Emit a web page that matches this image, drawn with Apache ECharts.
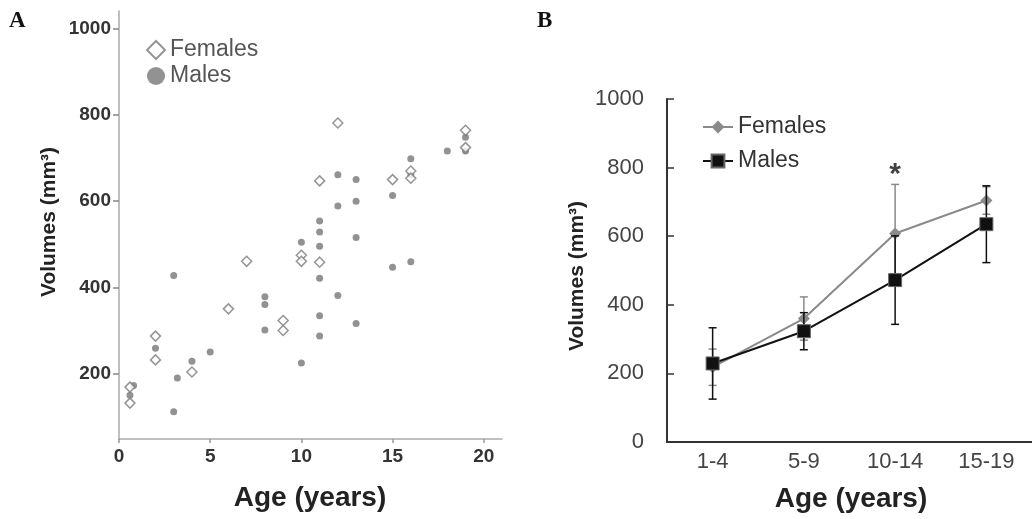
<!DOCTYPE html>
<html>
<head>
<meta charset="utf-8">
<script src="https://cdn.jsdelivr.net/npm/echarts@6/dist/echarts.min.js"></script>
<style>
  html, body { margin: 0; padding: 0; background: #fff; }
  #chart { width: 1032px; height: 519px; }
</style>
</head>
<body>
<div id="chart"></div>
<script>
// panel A: individual volumes [age, volume]
const femalesA = [
  [0.6, 170], [0.6, 133], [2, 288], [2, 233], [4, 205], [6, 351], [7, 461],
  [9, 324], [9, 301], [10, 475], [10, 461], [11, 647], [11, 459], [12, 781],
  [15, 650], [16, 670], [16, 653], [19, 764], [19, 724]
];
const malesA = [
  [0.6, 151], [0.8, 174], [2, 260], [3, 428], [3.2, 191], [3, 113], [4, 230],
  [5, 251], [8, 379], [8, 361], [8, 302], [10, 505], [10, 226], [11, 554],
  [11, 529], [11, 496], [11, 422], [11, 335], [11, 288], [12, 661], [12, 589],
  [12, 382], [13, 650], [13, 600], [13, 516], [13, 317], [15, 613], [15, 447],
  [16, 698], [16, 661], [16, 460], [18, 716], [19, 748], [19, 716]
];
const xTicksA = [0, 5, 10, 15, 20];
const yTicksA = [200, 400, 600, 800, 1000];

// panel B: group means and SD
const ageGroups = ["1-4", "5-9", "10-14", "15-19"];
const femaleMean = [218, 360, 608, 704];
const femaleSD = [53, 63, 143, 40];
const maleMean = [229, 323, 472, 635];
const maleSD = [104, 54, 129, 112];
const starGroup = "10-14";
const starValue = 805;

const chart = echarts.init(document.getElementById("chart"));

function errorBars(mean, sd) {
  return mean.map((m, i) => [i, m - sd[i], m + sd[i]]);
}

function errorRender(color) {
  return function (params, api) {
    const top = api.coord([api.value(0), api.value(2)]);
    const bot = api.coord([api.value(0), api.value(1)]);
    const w = 4;
    const style = { stroke: color, lineWidth: 1.5 };
    return {
      type: "group",
      children: [
        { type: "line", shape: { x1: top[0], y1: top[1], x2: bot[0], y2: bot[1] }, style: style },
        { type: "line", shape: { x1: top[0] - w, y1: top[1], x2: top[0] + w, y2: top[1] }, style: style },
        { type: "line", shape: { x1: bot[0] - w, y1: bot[1], x2: bot[0] + w, y2: bot[1] }, style: style },
      ],
    };
  };
}

const plain = (v) => String(v);
const boldText = { fontFamily: "Liberation Sans, Arial, sans-serif", fontWeight: "bold", fill: "#222" };

const option = {
  animation: false,
  backgroundColor: "#fff",
  textStyle: { fontFamily: "Liberation Sans, Arial, sans-serif" },
  grid: [
    { left: 119, top: 11, width: 383, height: 428 },
    { left: 667, top: 99, width: 372, height: 343 },
  ],
  legend: [
    {
      data: ["Females", "Males"],
      orient: "vertical",
      left: 141,
      top: 33,
      itemWidth: 18,
      itemHeight: 18,
      itemGap: 2,
      textStyle: { fontSize: 23, color: "#555", lineHeight: 24 },
    },
    {
      data: ["Females ", "Males "],
      orient: "vertical",
      left: 697,
      top: 110,
      itemWidth: 30,
      itemHeight: 16,
      itemGap: 10,
      textStyle: { fontSize: 23, color: "#333", lineHeight: 24 },
    },
  ],
  xAxis: [
    {
      type: "value",
      gridIndex: 0,
      min: 0,
      max: 21,
      splitLine: { show: false },
      axisLine: { lineStyle: { color: "#aaa", width: 1.5 } },
      axisTick: { customValues: xTicksA, length: 4, lineStyle: { color: "#999", width: 1.5 } },
      axisLabel: { customValues: xTicksA, formatter: plain, fontSize: 19, fontWeight: "bold", color: "#333", margin: 8 },
    },
    {
      type: "category",
      gridIndex: 1,
      data: ageGroups,
      boundaryGap: true,
      axisLine: { lineStyle: { color: "#333", width: 2 } },
      axisTick: { inside: true, length: 7, lineStyle: { color: "#333", width: 1.5 } },
      axisLabel: { fontSize: 22, color: "#444", margin: 9 },
    },
  ],
  yAxis: [
    {
      type: "value",
      gridIndex: 0,
      min: 50,
      max: 1040,
      splitLine: { show: false },
      axisLine: { show: true, lineStyle: { color: "#aaa", width: 1.5 } },
      axisTick: { show: true, customValues: yTicksA, length: 6, lineStyle: { color: "#888", width: 1.5 } },
      axisLabel: { customValues: yTicksA, formatter: plain, fontSize: 19, fontWeight: "bold", color: "#333", margin: 8 },
    },
    {
      type: "value",
      gridIndex: 1,
      min: 0,
      max: 1000,
      interval: 200,
      splitLine: { show: false },
      axisLine: { show: true, lineStyle: { color: "#333", width: 2 } },
      axisTick: { show: true, inside: true, length: 7, lineStyle: { color: "#333", width: 1.5 } },
      axisLabel: { formatter: plain, fontSize: 22, color: "#444", margin: 23 },
    },
  ],
  series: [
    {
      name: "Females",
      type: "scatter",
      xAxisIndex: 0,
      yAxisIndex: 0,
      symbol: "diamond",
      symbolSize: 10,
      itemStyle: { color: "#fff", borderColor: "#7a7a7a", borderWidth: 1.5 },
      data: femalesA,
      z: 3,
    },
    {
      name: "Males",
      type: "scatter",
      xAxisIndex: 0,
      yAxisIndex: 0,
      symbol: "circle",
      symbolSize: 7,
      itemStyle: { color: "#777" },
      data: malesA,
      z: 2,
    },
    {
      type: "custom",
      xAxisIndex: 1,
      yAxisIndex: 1,
      renderItem: errorRender("#8a8a8a"),
      data: errorBars(femaleMean, femaleSD),
      z: 2,
    },
    {
      name: "Females ",
      type: "line",
      xAxisIndex: 1,
      yAxisIndex: 1,
      symbol: "diamond",
      symbolSize: 12,
      color: "#8a8a8a",
      lineStyle: { color: "#8a8a8a", width: 2 },
      itemStyle: { color: "#8a8a8a" },
      data: femaleMean,
      z: 3,
    },
    {
      type: "custom",
      xAxisIndex: 1,
      yAxisIndex: 1,
      renderItem: errorRender("#111"),
      data: errorBars(maleMean, maleSD),
      z: 4,
    },
    {
      name: "Males ",
      type: "line",
      xAxisIndex: 1,
      yAxisIndex: 1,
      symbol: "rect",
      symbolSize: 13,
      color: "#111",
      lineStyle: { color: "#111", width: 2 },
      itemStyle: { color: "#111", borderColor: "#666", borderWidth: 1 },
      data: maleMean,
      z: 5,
    },
    {
      type: "scatter",
      xAxisIndex: 1,
      yAxisIndex: 1,
      symbolSize: 0,
      data: [[starGroup, starValue]],
      label: {
        show: true,
        formatter: "*",
        position: "inside",
        fontSize: 30,
        fontWeight: "bold",
        color: "#111",
        offset: [0, 9],
      },
      z: 6,
    },
  ],
  graphic: [
    { type: "text", left: 9, top: 10, style: { text: "A", font: "bold 23px 'Liberation Serif', serif", fill: "#111" } },
    { type: "text", left: 537, top: 10, style: { text: "B", font: "bold 23px 'Liberation Serif', serif", fill: "#111" } },
    {
      type: "text", x: 49, y: 222, rotation: Math.PI / 2,
      style: Object.assign({ text: "Volumes (mm³)", fontSize: 21, align: "center", verticalAlign: "middle" }, boldText),
    },
    {
      type: "text", x: 310, y: 498,
      style: Object.assign({ text: "Age (years)", fontSize: 28, align: "center", verticalAlign: "middle" }, boldText),
    },
    {
      type: "text", x: 577, y: 276, rotation: Math.PI / 2,
      style: Object.assign({ text: "Volumes (mm³)", fontSize: 21, align: "center", verticalAlign: "middle" }, boldText),
    },
    {
      type: "text", x: 851, y: 499,
      style: Object.assign({ text: "Age (years)", fontSize: 28, align: "center", verticalAlign: "middle" }, boldText),
    },
  ],
};

chart.setOption(option);
</script>
</body>
</html>
